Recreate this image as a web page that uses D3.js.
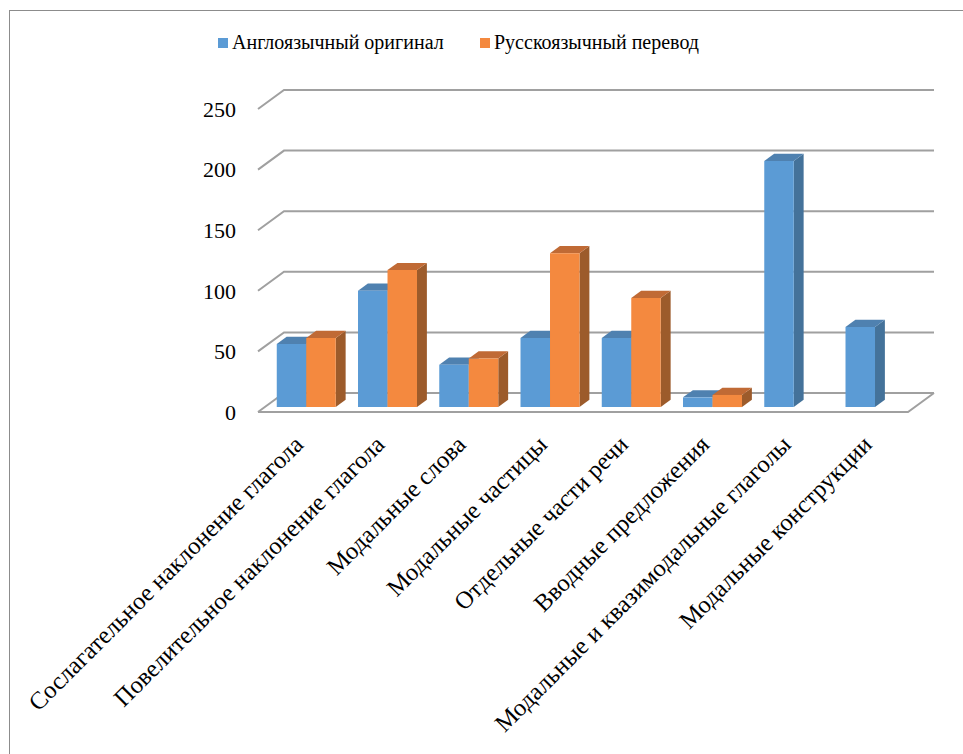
<!DOCTYPE html>
<html><head><meta charset="utf-8">
<script src="https://cdn.jsdelivr.net/npm/d3@7/dist/d3.min.js"></script>
<style>body{margin:0;background:#fff}svg{display:block}</style>
</head><body>
<svg id="chart" width="963" height="754"></svg>
<script>
const categories = [
  "Сослагательное наклонение глагола",
  "Повелительное наклонение глагола",
  "Модальные слова",
  "Модальные частицы",
  "Отдельные части речи",
  "Вводные предложения",
  "Модальные и квазимодальные глаголы",
  "Модальные конструкции"
];
const seriesNames = ["Англоязычный оригинал", "Русскоязычный перевод"];
const englishVals = [52, 96, 35, 57, 57, 8, 203, 66];
const russianVals = [57, 113, 40, 127, 90, 10, null, null];
const yTicks = [0, 50, 100, 150, 200, 250];

const svg = d3.select("#chart");
const FONT = '"Liberation Serif"';

svg.append("rect").attr("x",9.5).attr("y",10.5).attr("width",1000).attr("height",1000)
  .attr("fill","none").attr("stroke","#8c8c8c").attr("stroke-width",1);

const ox = 258, oy = 412;
const depthX = 26, depthY = -19;
const x = d3.scaleBand().domain(categories).range([0, 650]);
const xs = d3.scaleBand().domain(seriesNames).range([12, 71]);
const y = d3.scaleLinear().domain([0, 250]).range([0, -303]);
const P = (px, v, z) => [ox + px + depthX*z, oy + y(v) + depthY*z];

const gridColor = "#a0a0a0";
const g = svg.append("g");
yTicks.forEach(t => {
  const a = P(0, t, 1), b = P(650, t, 1), c = P(0, t, 0);
  g.append("path").attr("d", `M${c[0]},${c[1]}L${a[0]},${a[1]}L${b[0]},${b[1]}`)
    .attr("fill","none").attr("stroke",gridColor).attr("stroke-width",2);
});
{
  const a = P(0,0,0), b = P(650,0,0), c = P(650,0,1);
  g.append("path").attr("d", `M${a[0]},${a[1]}L${b[0]},${b[1]}L${c[0]},${c[1]}`)
    .attr("fill","none").attr("stroke",gridColor).attr("stroke-width",2);
}
svg.append("g").selectAll("text").data(yTicks).join("text")
  .attr("x", 236).attr("y", d => P(0, d, 0)[1]).attr("dy","0.35em")
  .attr("text-anchor","end").style("font-family",FONT).style("font-size","22px").attr("fill","#000")
  .text(d => d);

const colors = [
  {front:"#5b9bd5", top:"#4f81b0", side:"#44729a"},
  {front:"#f4893f", top:"#c06a35", side:"#9c5b2b"}
];
const z0 = 0.26, z1 = 0.64;
const bars = [];
categories.forEach((c, i) => {
  [englishVals[i], russianVals[i]].forEach((v, s) => {
    if (v == null) return;
    bars.push({c, s, v});
  });
});
const bg = svg.append("g");
const poly = pts => "M" + pts.map(p => p.join(",")).join("L") + "Z";
bars.forEach(d => {
  const x0 = x(d.c) + xs(seriesNames[d.s]), x1 = x0 + xs.bandwidth();
  const col = colors[d.s];
  const f0 = P(x0,0,z0), f1 = P(x1,0,z0), f2 = P(x1,d.v,z0), f3 = P(x0,d.v,z0);
  const b1 = P(x1,0,z1), b2 = P(x1,d.v,z1), b3 = P(x0,d.v,z1);
  bg.append("path").attr("d", poly([f1,b1,b2,f2])).attr("fill", col.side);
  bg.append("path").attr("d", poly([f3,f2,b2,b3])).attr("fill", col.top);
  bg.append("path").attr("d", poly([f0,f1,f2,f3])).attr("fill", col.front);
});

svg.append("g").selectAll("text").data(categories).join("text")
  .attr("transform", d => `translate(${ox + x(d) + x.bandwidth()/2 + 6},${446}) rotate(-45)`)
  .attr("text-anchor","end")
  .style("font-family",FONT).style("font-size","24.6px").attr("fill","#000")
  .text(d => d);

const legend = svg.append("g");
const legItems = [{name: seriesNames[0], x: 218, c: colors[0].front},
                  {name: seriesNames[1], x: 480, c: colors[1].front}];
legItems.forEach(it => {
  legend.append("rect").attr("x", it.x).attr("y", 38).attr("width", 10).attr("height", 10).attr("fill", it.c);
  legend.append("text").attr("x", it.x + 14).attr("y", 49)
    .style("font-family",FONT).style("font-size","20px").attr("fill","#000").text(it.name);
});
</script>
</body></html>
